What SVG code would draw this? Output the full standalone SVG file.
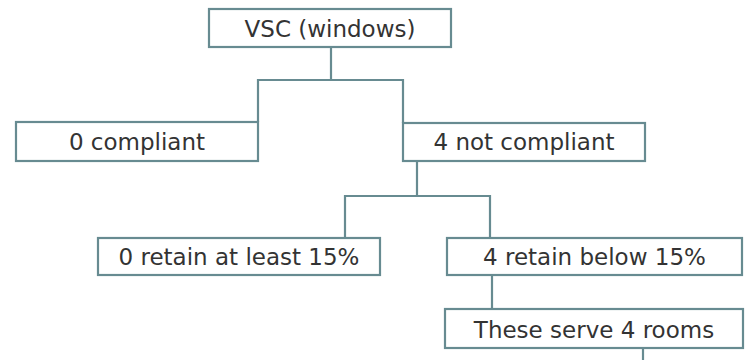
<svg xmlns="http://www.w3.org/2000/svg" width="747" height="360" viewBox="0 0 747 360">
<style>
.box{fill:#fff;stroke:#678b91;stroke-width:2.2}
.lbl{font-family:"DejaVu Sans",sans-serif;font-size:23px;fill:#333;text-anchor:middle}
.con{fill:none;stroke:#678b91;stroke-width:2.2}
</style>
<rect width="747" height="360" fill="#fff"/>
<g id="connectors">
<path class="con" d="M331 47V80M258 122V80H403V123"/>
<path class="con" d="M417 161V196M345 238V196H490V238"/>
<path class="con" d="M492 275V309"/>
<path class="con" d="M643 348V360"/>
</g>
<g id="n1"><rect class="box" x="209" y="9" width="242" height="38"/><text class="lbl" x="330" y="36.5">VSC (windows)</text></g>
<g id="n2"><rect class="box" x="16" y="122" width="242" height="39"/><text class="lbl" x="137" y="150">0 compliant</text></g>
<g id="n3"><rect class="box" x="403" y="123" width="242" height="38"/><text class="lbl" x="524" y="150">4 not compliant</text></g>
<g id="n4"><rect class="box" x="98" y="238" width="282" height="37"/><text class="lbl" x="239" y="265">0 retain at least 15%</text></g>
<g id="n5"><rect class="box" x="447" y="238" width="295" height="37"/><text class="lbl" x="594.5" y="265">4 retain below 15%</text></g>
<g id="n6"><rect class="box" x="445" y="309" width="298" height="39"/><text class="lbl" x="594" y="338">These serve 4 rooms</text></g>
</svg>
